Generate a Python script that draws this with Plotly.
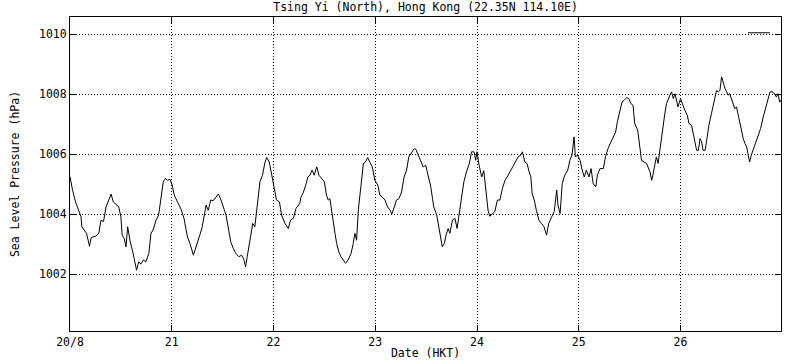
import plotly.graph_objects as go

# Hours since 20/8 00:00 HKT
hours = [0.0, 0.6, 1.3, 2.1, 2.6, 2.8, 3.4, 3.9, 4.6, 5.0, 6.1, 6.8, 7.3, 7.9, 8.5, 9.1, 9.7, 10.2,
         10.9, 11.5, 12.0, 12.3, 12.8, 13.2, 13.6, 14.2, 14.8, 15.2, 15.7, 16.2, 16.7, 17.3, 17.9, 18.6,
         19.1, 19.6, 20.3, 20.9, 21.5, 22.0, 22.5, 23.0, 23.6, 24.1, 24.6, 25.4, 26.2, 27.0,
         27.1, 27.7, 28.3, 29.1, 29.7, 30.3, 31.1, 31.6, 32.1, 32.6, 33.2, 33.8, 34.4, 35.0,
         35.5, 36.2, 36.8, 37.3, 37.9, 38.5, 39.1, 39.8, 40.5, 41.0, 41.4, 41.8, 42.4, 43.1,
         43.6, 44.2, 44.8, 45.4, 46.0, 46.4, 47.0, 47.6, 48.2, 48.7, 49.4, 49.9, 50.7, 51.5,
         52.0, 52.7, 53.3, 54.2,
         54.5, 55.0, 55.6, 56.1, 56.6, 57.1, 57.6, 58.2, 58.7, 59.4, 60.0, 60.5, 60.9, 61.3,
         61.7, 62.1, 62.5, 62.9, 63.4, 63.9, 64.4, 65.0, 65.6, 66.3, 66.8, 67.2, 67.6, 68.0,
         68.6, 69.2, 69.7, 70.2, 70.7, 71.3, 71.9, 72.6, 73.1, 73.6, 74.3, 74.9, 75.5, 75.9,
         76.5, 77.0, 77.6, 78.2, 78.8, 79.4, 79.9, 80.6, 81.2,
         81.6, 82.1, 82.7, 83.3, 83.9, 84.5, 85.1, 85.5, 85.8, 86.5, 86.9, 87.4, 87.8, 88.3,
         88.7, 89.2, 89.6, 90.2, 90.8, 91.3, 91.8, 92.4, 92.9, 93.5, 94.2, 94.7, 95.3, 95.7,
         96.0, 96.5, 97.1, 97.6, 98.1, 98.6, 99.0, 99.7, 100.2, 100.8, 101.4, 102.0, 102.6,
         103.1, 103.8, 104.5, 105.2, 105.7, 106.3, 106.7, 107.3, 107.8, 108.3,
         108.7, 109.0, 109.5, 110.0, 110.6, 111.2, 111.8, 112.4, 112.9, 113.6, 114.2, 114.8,
         115.1, 115.6, 116.1, 116.7, 117.4, 117.9, 118.4, 118.9, 119.2, 119.7, 120.3, 120.8,
         121.3, 121.8, 122.4, 122.9, 123.4, 124.0, 124.4, 125.0, 125.8, 126.3, 126.9, 127.6,
         128.2, 128.7, 129.1, 129.7, 130.2, 130.7, 131.3, 131.8, 132.3, 132.8, 133.2, 133.9,
         134.4, 134.8, 135.4, 136.0, 136.8, 137.2,
         137.4, 137.8, 138.3, 138.7, 139.1, 139.5, 139.9, 140.3, 140.7, 141.1, 141.5, 141.9,
         142.3, 142.7, 143.1, 143.4, 144.0, 144.5, 145.0, 145.6, 146.0, 146.6, 147.0, 147.4,
         147.8, 148.2, 148.6, 149.0, 149.3, 149.8, 150.3, 150.7, 151.3, 151.7, 152.1, 152.5,
         152.9, 153.3, 153.7, 154.1, 154.5, 154.9, 155.2, 155.6, 156.0, 156.4, 156.8, 157.2,
         157.6, 158.0, 158.4, 158.8, 159.2, 159.6, 159.9, 160.3, 160.7, 161.1, 161.8, 162.3,
         162.9, 163.5, 164.1, 164.7, 165.1, 165.7, 166.2, 166.6, 167.0, 167.4, 167.6]

pressure = [1005.25, 1004.80, 1004.41, 1004.13, 1003.91, 1003.58, 1003.47, 1003.36, 1002.93, 1003.22,
            1003.27, 1003.36, 1003.80, 1003.75, 1004.24, 1004.47, 1004.67, 1004.41, 1004.30, 1004.24,
            1003.91, 1003.30, 1003.19, 1002.91, 1003.58, 1003.08, 1002.74, 1002.47, 1002.13, 1002.41,
            1002.33, 1002.47, 1002.41, 1002.69, 1003.36, 1003.47, 1003.80, 1003.97, 1004.58, 1005.08,
            1005.19, 1005.13, 1005.16, 1004.97, 1004.63, 1004.41, 1004.16, 1003.80,
            1003.69, 1003.24, 1003.02, 1002.63, 1002.91, 1003.19, 1003.52, 1003.91, 1004.30, 1004.13,
            1004.47, 1004.45, 1004.56, 1004.67, 1004.52, 1004.24, 1003.97, 1003.58, 1003.08, 1002.86,
            1002.69, 1002.58, 1002.63, 1002.49, 1002.24, 1002.58, 1003.13, 1003.69, 1003.58, 1004.36,
            1005.08, 1005.30, 1005.74, 1005.89, 1005.74, 1005.30, 1004.86, 1004.47, 1004.41, 1003.97,
            1003.69, 1003.52, 1003.80, 1003.86, 1004.19, 1004.36,
            1004.58, 1004.71, 1004.97, 1005.24, 1005.30, 1005.47, 1005.30, 1005.58, 1005.30, 1005.19,
            1005.08, 1004.63, 1004.47, 1004.52, 1004.08, 1003.63, 1003.36, 1003.02, 1002.74, 1002.58,
            1002.49, 1002.36, 1002.47, 1002.69, 1003.02, 1003.36, 1003.13, 1004.13, 1004.91, 1005.69,
            1005.74, 1005.89, 1005.74, 1005.58, 1005.13, 1004.97, 1004.63, 1004.58, 1004.47, 1004.24,
            1004.13, 1004.00, 1004.24, 1004.47, 1004.52, 1004.74, 1005.24, 1005.47, 1005.91, 1006.08,
            1006.19,
            1006.16, 1006.00, 1005.80, 1005.58, 1005.63, 1005.24, 1004.91, 1004.52, 1004.24, 1003.97,
            1003.63, 1003.24, 1002.91, 1003.02, 1003.30, 1003.52, 1003.36, 1003.80, 1003.86, 1003.52,
            1003.97, 1004.63, 1005.08, 1005.41, 1005.69, 1006.08, 1006.08, 1005.80, 1006.08, 1005.63,
            1005.24, 1005.45, 1004.80, 1004.13, 1003.93, 1004.02, 1004.08, 1004.47, 1004.47, 1004.86,
            1005.13, 1005.24, 1005.41, 1005.63, 1005.80, 1005.91, 1005.97, 1006.08, 1005.74, 1005.69,
            1005.41,
            1005.24, 1004.69, 1004.47, 1004.13, 1003.80, 1003.69, 1003.58, 1003.30, 1003.69, 1003.91,
            1004.08, 1004.80, 1004.30, 1004.02, 1005.02, 1005.30, 1005.47, 1005.80, 1005.97, 1006.58,
            1005.91, 1005.97, 1005.80, 1005.47, 1005.24, 1005.47, 1005.24, 1005.52, 1005.02, 1004.91,
            1005.30, 1005.52, 1005.52, 1005.91, 1006.19, 1006.41, 1006.58, 1006.74, 1007.08, 1007.47,
            1007.74, 1007.80, 1007.89, 1007.86, 1007.69, 1007.63, 1007.02, 1006.80, 1006.24, 1005.80,
            1005.74, 1005.69, 1005.41, 1005.13,
            1005.24, 1005.58, 1005.91, 1005.69, 1006.13, 1006.58, 1006.91, 1007.36, 1007.69, 1007.86,
            1007.97, 1008.08, 1007.86, 1008.02, 1007.74, 1007.58, 1007.86, 1007.63, 1007.47, 1007.30,
            1007.02, 1006.97, 1006.63, 1006.41, 1006.13, 1006.13, 1006.52, 1006.41, 1006.13, 1006.13,
            1006.58, 1006.97, 1007.36, 1007.63, 1007.80, 1008.13, 1008.08, 1008.13, 1008.58, 1008.36,
            1008.19, 1008.08, 1007.97, 1008.02, 1007.86, 1007.69, 1007.52, 1007.58, 1007.30, 1007.02,
            1006.74, 1006.52, 1006.36, 1006.24, 1006.02, 1005.74, 1005.97, 1006.13, 1006.36, 1006.58,
            1006.86, 1007.24, 1007.58, 1007.91, 1008.08, 1008.08, 1008.02, 1007.91, 1008.02, 1007.74,
            1007.80]

x_tick_vals = [0, 24, 48, 72, 96, 120, 144]
x_tick_text = ["20/8", "21", "22", "23", "24", "25", "26"]
y_tick_vals = [1002, 1004, 1006, 1008, 1010]
y_tick_text = ["1002", "1004", "1006", "1008", "1010"]

FONT = "DejaVu Sans Mono"

fig = go.Figure()
fig.add_trace(go.Scatter(x=hours, y=pressure, mode="lines",
                         line=dict(color="black", width=1), showlegend=False,
                         hoverinfo="skip"))

axis_common = dict(showline=True, linecolor="black", linewidth=1, mirror="ticks",
                   ticks="inside", ticklen=6, tickcolor="black", tickwidth=1,
                   showgrid=True, gridcolor="black", gridwidth=1, griddash="1px,2px",
                   zeroline=False, tickfont=dict(family=FONT, size=11.5, color="black"))

fig.update_xaxes(range=[0, 167.7], tickmode="array", tickvals=x_tick_vals, ticktext=x_tick_text,
                 title=dict(text="Date (HKT)", font=dict(family=FONT, size=11.5, color="black"),
                            standoff=3),
                 **axis_common)
fig.update_yaxes(range=[1000.1, 1010.58], tickmode="array", tickvals=y_tick_vals, ticktext=y_tick_text,
                 title=dict(text="Sea Level Pressure (hPa)", font=dict(family=FONT, size=11.5, color="black"),
                            standoff=16),
                 **axis_common)

fig.add_shape(type="line", xref="paper", yref="paper", x0=0.9536, x1=0.9845, y0=0.9497, y1=0.9497,
              line=dict(color="black", width=1))

fig.update_layout(
    width=800, height=360,
    margin=dict(l=70, r=19, t=17, b=29, autoexpand=False),
    paper_bgcolor="white", plot_bgcolor="white",
    title=dict(text="Tsing Yi (North), Hong Kong (22.35N 114.10E)",
               font=dict(family=FONT, size=11.5, color="black"),
               x=0.532, xanchor="center", y=1 - 7 / 360, yanchor="middle", yref="container"),
    font=dict(family=FONT, color="black"),
)

fig.write_html("out.html", config={"displayModeBar": False},
               post_script="document.body.style.margin='0';")
